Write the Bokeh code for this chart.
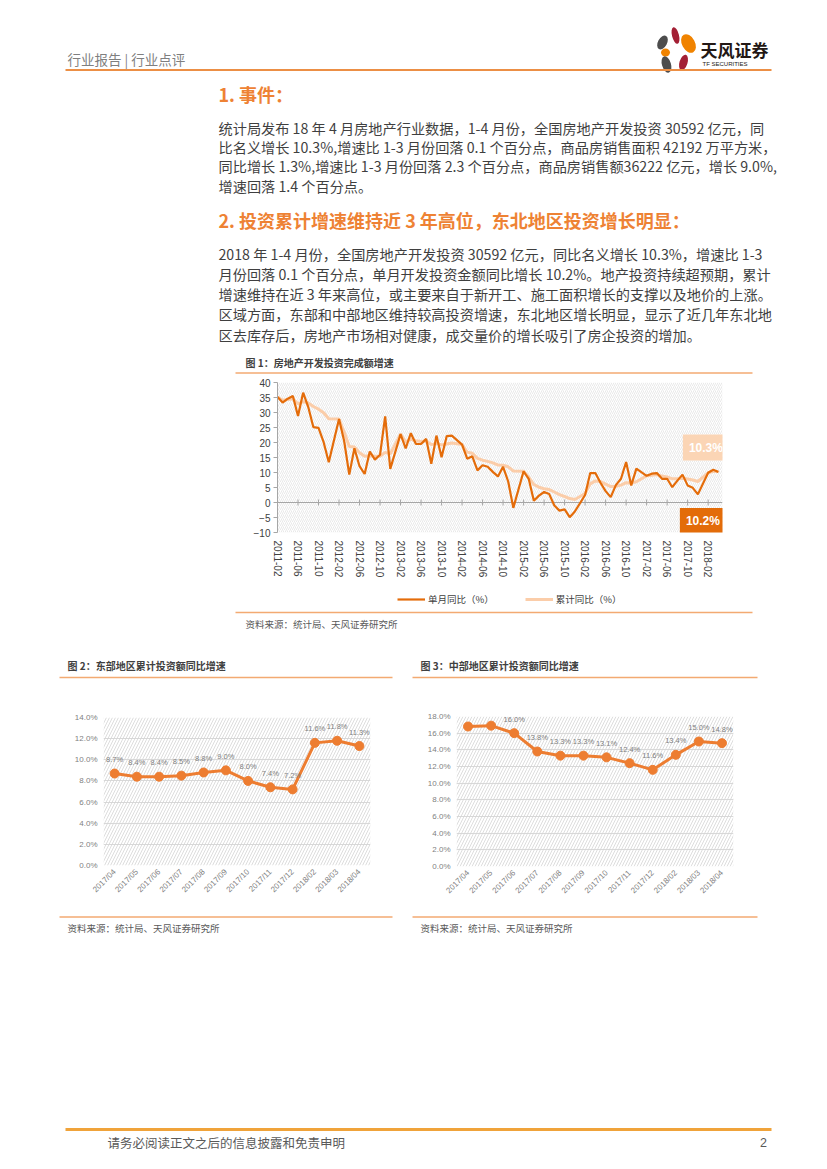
import math
from bokeh.plotting import figure
from bokeh.models import (Range1d, Label, Legend, LegendItem, BoxAnnotation, Span,
                          FixedTicker, PrintfTickFormatter)
from bokeh.layouts import column, row
from bokeh.embed import file_html
from bokeh.resources import INLINE
from bokeh.core.properties import value

CJK = "Noto Sans CJK SC"
LAT = "Liberation Sans"

# ---------------- data ----------------
months = [f"{y}-{m:02d}" for y in range(2011, 2019) for m in range(2, 13)
          if not (y == 2018 and m > 4)]

single_month = [
    35.2, 33.3, 34.6, 35.5, 28.8, 36.6, 31.8, 25.1, 24.9, 20.1, 13.4,   # 2011
    27.8, 20.5, 9.3, 18.1, 12.1, 9.5, 17.0, 14.3, 15.9, 28.7, 11.2,     # 2012
    22.8, 18.0, 23.1, 19.5, 19.5, 21.2, 12.9, 22.3, 15.1, 22.1, 22.3,   # 2013
    19.3, 14.6, 15.4, 10.7, 12.4, 11.9, 10.2, 8.7, 11.9, 7.0, -1.8,     # 2014
    10.4, 7.9, 0.6, 2.3, 3.5, 2.8, -1.0, -2.7, -2.3, -4.9, -3.0,        # 2015
    2.5, 9.8, 9.8, 6.6, 3.8, 1.8, 5.8, 7.9, 13.5, 5.7, 11.3,            # 2016
    8.9, 9.6, 9.8, 7.9, 7.9, 5.1, 7.3, 9.3, 5.7, 4.9, 2.7,              # 2017
    9.9, 10.9, 10.2,                                                    # 2018
]
cumulative = [
    35.2, 34.1, 34.3, 34.6, 32.9, 33.6, 33.2, 32.0, 31.1, 29.9, 27.9,
    27.8, 23.5, 18.7, 18.5, 16.6, 15.4, 15.6, 15.4, 15.4, 16.7, 16.2,
    22.8, 20.2, 21.1, 20.6, 20.3, 20.5, 19.3, 19.7, 19.2, 19.5, 19.8,
    19.3, 16.8, 16.4, 14.7, 14.1, 13.7, 13.2, 12.5, 12.4, 11.9, 10.5,
    10.4, 8.5, 6.0, 5.1, 4.6, 4.3, 3.5, 2.6, 2.0, 1.3, 1.0,
    3.0, 6.2, 7.2, 7.0, 6.1, 5.3, 5.4, 5.8, 6.6, 6.5, 6.9,
    8.9, 9.1, 9.3, 8.8, 8.5, 7.9, 7.9, 8.1, 7.8, 7.5, 7.0,
    9.9, 10.4, 10.3,
]
tick_labels = ["2011-02", "2011-06", "2011-10", "2012-02", "2012-06", "2012-10",
               "2013-02", "2013-06", "2013-10", "2014-02", "2014-06", "2014-10",
               "2015-02", "2015-06", "2015-10", "2016-02", "2016-06", "2016-10",
               "2017-02", "2017-06", "2017-10", "2018-02"]
y_ticks_1 = [-10, -5, 0, 5, 10, 15, 20, 25, 30, 35, 40]
series_names = ["单月同比（%）", "累计同比（%）"]

region_months = ["2017/04", "2017/05", "2017/06", "2017/07", "2017/08", "2017/09",
                 "2017/10", "2017/11", "2017/12", "2018/02", "2018/03", "2018/04"]
east_vals = [8.7, 8.4, 8.4, 8.5, 8.8, 9.0, 8.0, 7.4, 7.2, 11.6, 11.8, 11.3]
central_vals = [16.8, 16.9, 16.0, 13.8, 13.3, 13.3, 13.1, 12.4, 11.6, 13.4, 15.0, 14.8]
y_ticks_east = [0, 2, 4, 6, 8, 10, 12, 14]
y_ticks_central = [0, 2, 4, 6, 8, 10, 12, 14, 16, 18]

para1 = [
    "统计局发布 18 年 4 月房地产行业数据，1-4 月份，全国房地产开发投资 30592 亿元，同",
    "比名义增长 10.3%,增速比 1-3 月份回落 0.1 个百分点，商品房销售面积 42192 万平方米，",
    "同比增长 1.3%,增速比 1-3 月份回落 2.3 个百分点，商品房销售额36222 亿元，增长 9.0%,",
    "增速回落 1.4 个百分点。",
]
para2 = [
    "2018 年 1-4 月份，全国房地产开发投资 30592 亿元，同比名义增长 10.3%，增速比 1-3",
    "月份回落 0.1 个百分点，单月开发投资金额同比增长 10.2%。地产投资持续超预期，累计",
    "增速维持在近 3 年来高位，或主要来自于新开工、施工面积增长的支撑以及地价的上涨。",
    "区域方面，东部和中部地区维持较高投资增速，东北地区增长明显，显示了近几年东北地",
    "区去库存后，房地产市场相对健康，成交量价的增长吸引了房企投资的增加。",
]

ORANGE = "#EE8234"
BOXLINE = "#F3AA72"
TXT = "#3F3F3F"
DARK = "#E46C0A"
LIGHT = "#FBCDA9"
NAN = float("nan")


def page_fig(w, h, x0, y0):
    p = figure(width=w, height=h, x_range=Range1d(x0, x0 + w), y_range=Range1d(y0 + h, y0),
               toolbar_location=None, output_backend="svg", frame_align=False,
               x_axis_location=None, y_axis_location=None, min_border=0)
    p.outline_line_color = None
    p.xgrid.visible = False
    p.ygrid.visible = False
    return p


def put(p, x, y, s, size, color=TXT, bold=False, align="left", font=CJK):
    p.add_layout(Label(x=x, y=y, text=s, text_font=font, text_font_size=f"{size}px",
                       text_color=color, text_font_style="bold" if bold else "normal",
                       text_align=align, text_baseline="middle"))


def hline(p, x0, x1, y, color, w):
    p.segment(x0=[x0], y0=[y], x1=[x1], y1=[y], line_color=color, line_width=w)


W = 811
# ---------------- top text block (page y 0..374) ----------------
top = page_fig(W, 374, 0, 0)
put(top, 67, 58, "行业报告 | 行业点评", 13.5, "#7F7F7F")
# logo
top.ellipse(x=[675, 688, 662, 665, 683, 666], y=[35, 43, 42, 52, 62, 64],
            width=[7, 13, 9, 9, 8, 9], height=[17, 20, 15, 8, 16, 17],
            angle=[0.25, 0.5, -0.5, 0, -0.3, 0.3],
            fill_color=["#A31F34", "#F08300", "#4D4D4D", "#F08300", "#A31F34", "#4D4D4D"],
            line_color=None)
put(top, 700, 49, "天风证券", 17, "#231815", bold=True)
put(top, 702, 63.5, "TF SECURITIES", 6, "#231815", font=LAT)
hline(top, 65, 771, 69.5, "#EC8F45", 2)

put(top, 218, 93.5, "1. 事件：", 18, ORANGE, bold=True)
for i, s in enumerate(para1):
    put(top, 218, 127 + i * 19.4, s, 14.2)
put(top, 218, 219, "2. 投资累计增速维持近 3 年高位，东北地区投资增长明显：", 18, ORANGE, bold=True)
for i, s in enumerate(para2):
    put(top, 218, 253 + i * 20.3, s, 14.2)

put(top, 245, 361.5, "图 1：房地产开发投资完成额增速", 10, "#404040", bold=True)
hline(top, 235, 752, 372.5, BOXLINE, 1.3)

# ---------------- chart 1 (page y 374..580) ----------------
def midx(s):
    y, m = s.split("-")
    return (int(y) - 2011) * 12 + int(m) - 2


xs = [midx(m) for m in months]
p1 = figure(width=W, height=206, x_range=Range1d(0, 86.8), y_range=Range1d(-10, 40),
            toolbar_location=None, output_backend="svg", frame_align=False,
            min_border_left=277, min_border_right=89, min_border_top=8, min_border_bottom=48)
p1.outline_line_color = None
p1.xgrid.visible = False
p1.ygrid.visible = False
p1.add_layout(BoxAnnotation(left=0, right=86.8, bottom=-10, top=40, fill_alpha=0,
                            line_color=None, hatch_pattern="/", hatch_color="#DADADA",
                            hatch_scale=4, hatch_weight=0.6, level="underlay"))
p1.add_layout(Span(location=0, dimension="width", line_color="#A6A6A6", line_width=1,
                   level="underlay"))
p1.scatter([midx(t) for t in tick_labels], [0] * len(tick_labels), marker="dash",
           angle=math.pi / 2, size=6, line_color="#A6A6A6", line_width=1)
p1.line(xs, cumulative, line_color=LIGHT, line_width=3)
p1.line(xs, single_month, line_color=DARK, line_width=2.2)

p1.xaxis.ticker = FixedTicker(ticks=[midx(t) for t in tick_labels])
p1.xaxis.major_label_overrides = {midx(t): t for t in tick_labels}
p1.xaxis.major_label_orientation = "vertical"
p1.xaxis.axis_line_color = None
p1.xaxis.major_tick_line_color = None
p1.xaxis.minor_tick_line_color = None
p1.xaxis.major_tick_out = 0
p1.xaxis.minor_tick_out = 0
p1.xaxis.major_label_standoff = 8
p1.yaxis.ticker = FixedTicker(ticks=y_ticks_1)
p1.yaxis.axis_line_color = "#A6A6A6"
p1.yaxis.major_tick_line_color = "#A6A6A6"
p1.yaxis.major_tick_out = 4
p1.yaxis.major_tick_in = 0
p1.yaxis.minor_tick_line_color = None
p1.yaxis.major_label_standoff = 3
for ax in (p1.xaxis, p1.yaxis):
    ax.major_label_text_font = LAT
    ax.major_label_text_font_size = "10px"
    ax.major_label_text_color = "#404040"

p1.add_layout(Label(x=xs[-1], y=cumulative[-1], text=f"{cumulative[-1]}%", x_offset=-12.5,
                    y_offset=24, text_align="center", text_baseline="middle",
                    text_color="white", text_font=LAT, text_font_style="bold",
                    text_font_size="12px", background_fill_color="#FBD5B5", padding=6))
p1.add_layout(Label(x=xs[-1], y=single_month[-1], text=f"{single_month[-1]}%", x_offset=-15.5,
                    y_offset=-49, text_align="center", text_baseline="middle",
                    text_color="white", text_font=LAT, text_font_style="bold",
                    text_font_size="12px", background_fill_color="#E36C09", padding=6))

# ---------------- mid block (page y 580..679): legend, source, titles ----------------
mid = page_fig(W, 99, 0, 580)
lg_single = mid.line([NAN], [NAN], line_color=DARK, line_width=2.2)
lg_cum = mid.line([NAN], [NAN], line_color=LIGHT, line_width=3)
legend = Legend(items=[LegendItem(label=series_names[0], renderers=[lg_single]),
                       LegendItem(label=series_names[1], renderers=[lg_cum])],
                orientation="horizontal", location=(397, 73), glyph_width=28,
                glyph_height=14, label_standoff=3, spacing=31, padding=0, margin=0,
                border_line_color=None, background_fill_alpha=0,
                label_text_font=CJK, label_text_font_size="9.5px", label_text_color="#404040")
mid.add_layout(legend)
hline(mid, 235, 752, 612, BOXLINE, 1.3)
put(mid, 245, 623, "资料来源：统计局、天风证券研究所", 9.5, "#595959")
put(mid, 67, 665, "图 2：东部地区累计投资额同比增速", 10, "#404040", bold=True)
put(mid, 420, 665, "图 3：中部地区累计投资额同比增速", 10, "#404040", bold=True)
hline(mid, 59, 392, 677, BOXLINE, 1.3)
hline(mid, 412, 757, 677, BOXLINE, 1.3)


# ---------------- charts 2 and 3 (page y 679..914) ----------------
def region_chart(w, vals, yticks, mb):
    p = figure(width=w, height=235, x_range=region_months, y_range=Range1d(0, yticks[-1]),
               toolbar_location=None, output_backend="svg", frame_align=False,
               min_border_left=mb[0], min_border_right=mb[1], min_border_top=mb[2],
               min_border_bottom=mb[3])
    p.outline_line_color = None
    p.xgrid.visible = False
    p.ygrid.grid_line_color = "#D9D9D9"
    p.ygrid.ticker = FixedTicker(ticks=yticks)
    p.add_layout(BoxAnnotation(bottom=0, top=yticks[-1], fill_alpha=0, line_color=None,
                               hatch_pattern="/", hatch_color="#D4D4D4", hatch_scale=6,
                               hatch_weight=0.8, level="underlay"))
    p.line(region_months, vals, line_color="#ED7D31", line_width=3)
    p.scatter(region_months, vals, size=9, fill_color="#ED7D31", line_color="#ED7D31")
    p.text(region_months, vals, text=[f"{v:.1f}%" for v in vals], y_offset=-14,
           text_align="center", text_baseline="middle", text_font_size="7.5px",
           text_color="#7F7F7F", text_font=value(LAT))
    p.yaxis.ticker = FixedTicker(ticks=yticks)
    p.yaxis.formatter = PrintfTickFormatter(format="%.1f%%")
    p.xaxis.major_label_orientation = math.pi / 4
    for ax in (p.xaxis, p.yaxis):
        ax.axis_line_color = None
        ax.major_tick_line_color = None
        ax.minor_tick_line_color = None
        ax.major_tick_out = 0
        ax.major_label_text_font = LAT
        ax.major_label_text_font_size = "8px"
        ax.major_label_text_color = "#7F7F7F"
    p.yaxis.major_label_standoff = 6
    p.xaxis.major_label_standoff = 5
    return p


p2 = region_chart(410, east_vals, y_ticks_east, (103, 40, 38, 49))
p3 = region_chart(401, central_vals, y_ticks_central, (46, 78, 37, 48))

# ---------------- bottom text block (page y 914..1161) ----------------
bot = page_fig(W, 247, 0, 914)
hline(bot, 59, 392, 916.5, BOXLINE, 1.3)
hline(bot, 412, 757, 916.5, BOXLINE, 1.3)
put(bot, 67, 927, "资料来源：统计局、天风证券研究所", 9.5, "#595959")
put(bot, 420, 927, "资料来源：统计局、天风证券研究所", 9.5, "#595959")
hline(bot, 65, 771, 1129, "#F0A33A", 3)
put(bot, 107, 1141.5, "请务必阅读正文之后的信息披露和免责申明", 12.5, "#595959")
put(bot, 763, 1141.5, "2", 12.5, "#595959", align="center", font=LAT)

page = column(top, p1, mid, row(p2, p3), bot)
open("out.html", "w").write(file_html(page, INLINE))
